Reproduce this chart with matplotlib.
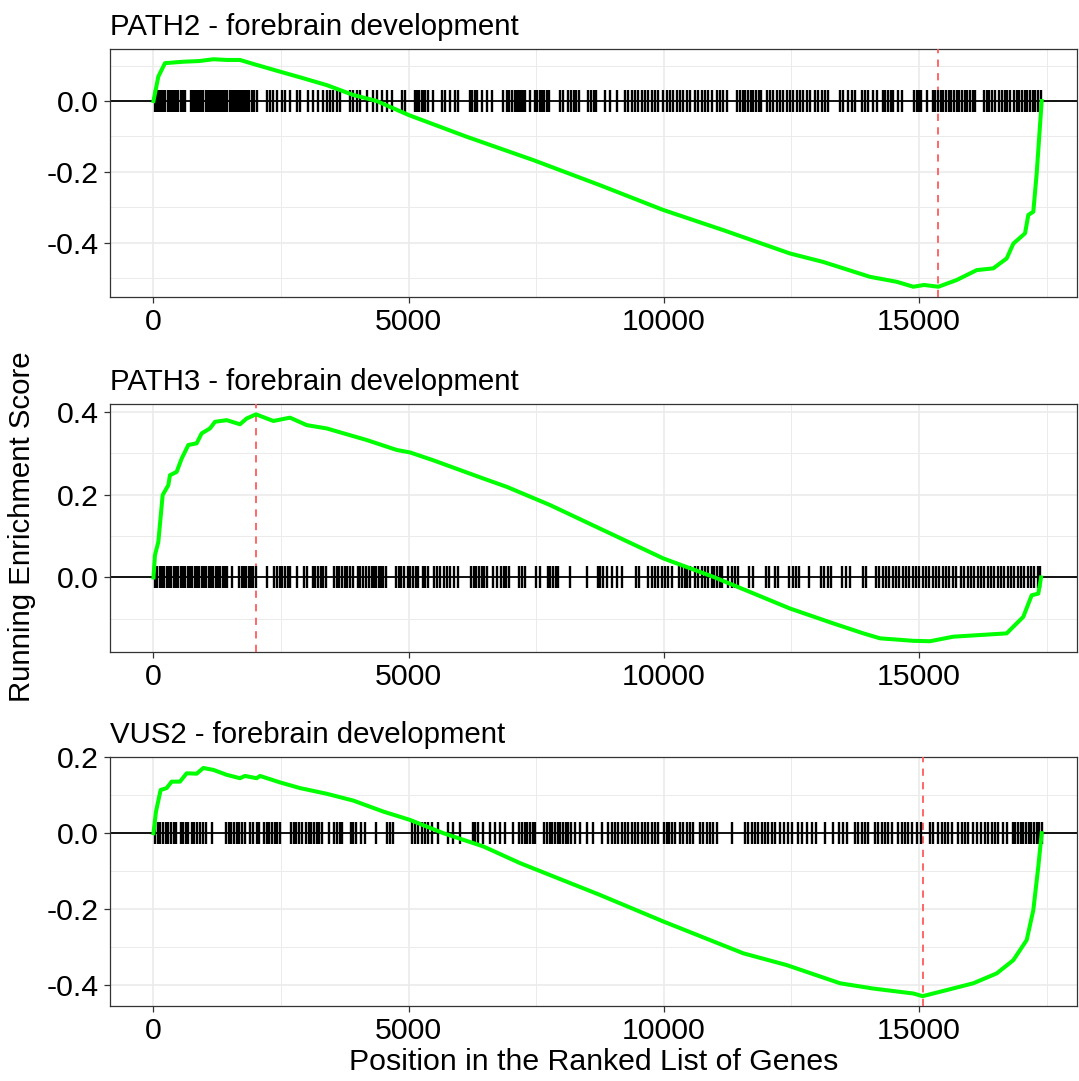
import matplotlib
matplotlib.use("Agg")
import matplotlib.pyplot as plt
import numpy as np

plt.rcParams['font.family'] = ['Liberation Sans', 'DejaVu Sans']
plt.rcParams['axes.unicode_minus'] = False

titles = ["PATH2 - forebrain development",
          "PATH3 - forebrain development",
          "VUS2 - forebrain development"]
xlabel = "Position in the Ranked List of Genes"
ylabel = "Running Enrichment Score"

# running enrichment score curves
x1 = [0, 95, 225, 585, 900, 1172, 1450, 1695, 2022, 2479, 2871, 3394, 3916, 4374, 5007, 6137, 7443, 8750,
      9990, 11166, 12473, 13126, 14041, 14564, 14890, 15100, 15380, 15740, 16132, 16457, 16719, 16850,
      17079, 17143, 17241, 17307, 17405]
y1 = [0, 0.069, 0.107, 0.111, 0.113, 0.118, 0.116, 0.116, 0.102, 0.083, 0.067, 0.045, 0.017, 0.0, -0.040,
      -0.101, -0.167, -0.238, -0.308, -0.365, -0.431, -0.455, -0.497, -0.511, -0.525, -0.520, -0.525,
      -0.506, -0.478, -0.473, -0.445, -0.403, -0.374, -0.322, -0.313, -0.205, 0.0]

x2 = [0, 29, 95, 180, 291, 323, 454, 552, 683, 846, 944, 1107, 1205, 1434, 1695, 1826, 2009, 2349, 2675,
      3002, 3394, 4178, 4766, 5027, 5484, 6464, 6921, 7770, 8750, 9991, 10971, 12474, 13323, 13911, 14238,
      14891, 15217, 15674, 16197, 16719, 16849, 17045, 17209, 17339, 17392]
y2 = [0, 0.054, 0.086, 0.199, 0.223, 0.247, 0.255, 0.287, 0.320, 0.324, 0.348, 0.360, 0.376, 0.380, 0.370,
      0.384, 0.394, 0.378, 0.386, 0.368, 0.360, 0.332, 0.308, 0.302, 0.283, 0.239, 0.219, 0.175, 0.118,
      0.046, 0.0015, -0.075, -0.111, -0.135, -0.147, -0.153, -0.154, -0.143, -0.139, -0.135, -0.119,
      -0.095, -0.043, -0.039, 0.0]

x3 = [0, 49, 140, 258, 356, 519, 650, 846, 977, 1173, 1434, 1695, 1793, 2022, 2087, 2479, 2871, 3394, 3916,
      4504, 5027, 5680, 6464, 7183, 8750, 9991, 11558, 12408, 13453, 14106, 14890, 15072, 15544, 16066,
      16523, 16850, 17111, 17241, 17339, 17405]
y3 = [0, 0.057, 0.114, 0.119, 0.136, 0.136, 0.158, 0.157, 0.172, 0.167, 0.154, 0.145, 0.151, 0.145, 0.151,
      0.134, 0.119, 0.104, 0.086, 0.057, 0.035, 0.0, -0.035, -0.079, -0.163, -0.233, -0.317, -0.348,
      -0.396, -0.410, -0.423, -0.430, -0.414, -0.396, -0.370, -0.335, -0.282, -0.203, -0.088, 0.0]

# positions of gene-set hits (rug)
hits1 = [30, 70, 110, 150, 190, 230, 280, 320, 360, 400, 440, 490, 530, 570, 610,
         730, 770, 810, 860, 900,
         940, 980, 1020, 1060, 1090, 1130, 1170, 1210, 1250, 1290,
         1330, 1370, 1410, 1450, 1490, 1530, 1560, 1600, 1640, 1680, 1720, 1760, 1800, 1840, 1880,
         1924, 1969, 2022, 2218, 2283, 2348, 2414, 2512, 2577, 2675, 2806, 2871, 3034, 3132, 3230, 3328,
         3394, 3459, 3524, 3590, 3655, 3851, 3916, 3982, 4047, 4178, 4308, 4374, 4472, 4570, 4668, 4864,
         4929, 5124, 5170, 5209, 5255, 5288, 5320, 5386, 5484, 5647, 5713, 5811, 5909, 5974,
         6202, 6248, 6294, 6333, 6431, 6529, 6627, 6856, 6921, 6973, 7019,
         7084, 7117, 7150, 7183, 7215, 7248, 7281, 7378, 7476, 7522, 7567, 7613, 7659, 7705, 7750,
         7966, 8031, 8129, 8181, 8233, 8286, 8338, 8521, 8573, 8626, 8678,
         8848, 8946, 9077, 9240, 9306, 9371, 9436, 9502, 9567, 9632, 9698, 9763, 9828, 9894,
         9992, 10057, 10122, 10188, 10253, 10318, 10384, 10449, 10514,
         10612, 10677, 10743, 10808, 10873, 10939, 11036, 11102, 11167, 11232,
         11441, 11494, 11546, 11598, 11651, 11703, 11755, 11808, 11860, 11912,
         12016, 12081, 12147, 12212, 12277, 12343, 12408, 12473, 12539, 12604, 12669, 12735, 12800, 12865,
         12963, 13029, 13094, 13159, 13225, 13453, 13518, 13616, 13682, 13747, 13878, 13943, 14008,
         14106, 14171, 14289, 14341, 14393, 14446, 14498, 14596, 14662, 14910, 14955, 15001, 15047, 15151,
         15269, 15321, 15373, 15426, 15478, 15530, 15583, 15635, 15687, 15740, 15792, 15844, 15896, 15949,
         16001, 16053, 16106, 16275, 16328, 16380, 16432, 16485, 16575, 16628, 16680, 16732, 16785,
         16864, 16916, 16968, 17020, 17073, 17125, 17177, 17229, 17282, 17334, 17386]

hits2 = [29, 75, 121, 167, 212, 258, 304, 349, 395, 441, 487, 532, 578, 624, 669, 715, 761, 806, 852, 898,
         944, 989, 1035, 1081, 1126, 1172, 1218, 1264, 1309, 1355, 1401, 1446, 1532,
         1682, 1728, 1774, 1819, 1865, 1911, 1956, 2002, 2218, 2368, 2420, 2472, 2525, 2577, 2629, 2681,
         2806, 2949, 3015, 3119, 3171, 3224, 3276, 3328, 3380, 3537, 3590, 3642, 3694, 3746, 3799, 3851,
         3903, 3999, 4052, 4104, 4156, 4229, 4275, 4321, 4366, 4412, 4458, 4504, 4549,
         4752, 4804, 4857, 4909, 4981, 5033, 5085, 5137, 5190, 5274, 5327, 5379, 5504, 5562, 5615,
         5699, 5752, 5804, 5895, 5974, 6222, 6274, 6327, 6379, 6431, 6484, 6536, 6660, 6725,
         6810, 6862, 6915, 6967, 7169, 7222, 7274, 7496, 7574, 7724, 7776, 7828, 7880, 7933,
         8162, 8489, 8717, 8750, 8815, 8880, 8978, 9076, 9174, 9455, 9521,
         9697, 9763, 9828, 9893, 9959, 10024, 10089, 10155, 10304, 10356, 10409, 10461, 10513,
         10611, 10676, 10742, 10807, 10872, 10938, 10990, 11042, 11094, 11147, 11265, 11330, 11395, 11461,
         11676, 11741, 12003, 12068, 12180, 12245, 12459, 12524, 12589, 12655, 12851,
         13080, 13146, 13211, 13276, 13485, 13570, 13649, 13910, 13963,
         14158, 14223, 14289, 14354, 14419, 14485, 14550, 14615, 14681, 14746, 14811, 14877, 14942,
         15007, 15073, 15138, 15203, 15269, 15334, 15399, 15465, 15530, 15595, 15661, 15726,
         15824, 15889, 15955, 16020, 16085, 16150, 16216, 16281, 16346, 16412, 16477, 16542, 16608,
         16673, 16738, 16804, 16869, 16934, 16999, 17065, 17130, 17195, 17261, 17326, 17372]

hits3 = [29, 82, 134, 186, 238, 291, 343, 395, 448, 539, 585, 637, 683, 748, 800, 859, 911, 963, 1029, 1140,
         1421, 1473, 1525, 1578, 1630, 1682, 1734, 1786, 1891, 1956, 2022, 2074,
         2165, 2218, 2270, 2322, 2374, 2427, 2479, 2694, 2747, 2799, 2851, 2903,
         2988, 3041, 3093, 3145, 3197, 3250, 3302, 3446, 3544, 3596, 3648, 3701, 3870, 3916, 3968,
         4067, 4145, 4360, 4582, 4635, 4687, 5059, 5124, 5190, 5255, 5320, 5386, 5451, 5582,
         5778, 5876, 6006, 6254, 6307, 6359, 6457, 6588, 6686, 6784, 6882, 7045,
         7169, 7222, 7274, 7326, 7378, 7431, 7483,
         7659, 7711, 7763, 7816, 7868, 7920, 7972, 8025, 8077, 8129, 8181, 8260, 8358, 8489, 8619,
         8783, 8913, 8979, 9044, 9109, 9175, 9240, 9305, 9371, 9436, 9501, 9567, 9632, 9697, 9763, 9828, 9893,
         10007, 10059, 10111, 10164, 10216, 10318, 10384, 10449, 10514, 10580,
         10710, 10775, 10841, 10906, 10971, 11037, 11330,
         11591, 11656, 11722, 11787, 11852, 11917, 11983, 12048, 12113, 12179,
         12277, 12356, 12434, 12512, 12636, 12714, 12799, 12897, 12982, 13159, 13322,
         13439, 13518, 13596, 13747, 13812, 13878, 13943, 14008,
         14139, 14204, 14269, 14335, 14400, 14465, 14596, 14662, 14727, 14792, 14858, 14955, 15034,
         15217, 15282, 15380, 15446, 15511, 15576, 15642, 15772, 15838, 15903, 15968,
         16053, 16132, 16210, 16288, 16360, 16426, 16491, 16556, 16654, 16720,
         16837, 16889, 16941, 16993, 17046, 17098, 17150, 17202, 17255, 17307, 17359, 17405]

peaks = [15380, 2009, 15072]

yticks_list = [[0.0, -0.2, -0.4], [0.0, 0.2, 0.4], [0.2, 0.0, -0.2, -0.4]]
yminor_list = [[0.1, -0.1, -0.3, -0.5], [0.1, 0.3, -0.1], [0.1, -0.1, -0.3]]
ylims = [(-0.554, 0.147), (-0.180, 0.419), (-0.456, 0.201)]
xticks = [0, 5000, 10000, 15000]
xminor = [2500, 7500, 12500, 17500]
xlim = (-852, 18097)

W, H = 1079, 1081
fig = plt.figure(figsize=(W / 100, H / 100), dpi=100)

# panel (top, bottom) in pixels
panels_px = [(49, 297), (404, 652), (757, 1006)]
left_px, right_px = 110, 1077

curves = [(x1, y1), (x2, y2), (x3, y3)]
hits = [hits1, hits2, hits3]

frame_col = '#333333'
for i in range(3):
    top, bot = panels_px[i]
    ax = fig.add_axes([left_px / W, 1 - bot / H, (right_px - left_px) / W, (bot - top) / H])
    ax.set_xlim(*xlim)
    ax.set_ylim(*ylims[i])
    ax.set_xticks(xticks)
    ax.set_xticks(xminor, minor=True)
    ax.set_yticks(yticks_list[i])
    ax.set_yticks(yminor_list[i], minor=True)
    ax.set_xticklabels([str(t) for t in xticks])
    ax.set_yticklabels(["%.1f" % t for t in yticks_list[i]])
    ax.grid(which='major', color='#EBEBEB', linewidth=1.2, zorder=0)
    ax.grid(which='minor', color='#EBEBEB', linewidth=0.7, zorder=0)
    ax.set_axisbelow(True)
    ax.tick_params(which='major', direction='out', length=4, width=0.9, color=frame_col,
                   labelsize=21.8, labelcolor='black', pad=4)
    ax.tick_params(which='minor', length=0)
    for s in ax.spines.values():
        s.set_color(frame_col)
        s.set_linewidth(0.9)

    ax.axhline(0, color='black', linewidth=1.3, zorder=2)
    ax.axvline(peaks[i], color='#FF5A5A', linewidth=1.3, linestyle=(0, (4, 3.5)), zorder=3)
    ax.plot(hits[i], np.zeros(len(hits[i])), linestyle='none', marker='|', markersize=16.5,
            markeredgewidth=1.7, color='black', zorder=4)
    cx, cy = curves[i]
    ax.plot(cx, cy, color='#00FF00', linewidth=2.9, zorder=5, solid_joinstyle='round')
    ax.set_title(titles[i], loc='left', fontsize=21.2, pad=10)

fig.text(594 / W, 1 - 1062 / H, xlabel, ha='center', va='center', fontsize=21.8)
fig.text(22 / W, 1 - 527 / H, ylabel, ha='center', va='center', rotation=90, fontsize=21.2)

fig.savefig('out.png', dpi=100)
